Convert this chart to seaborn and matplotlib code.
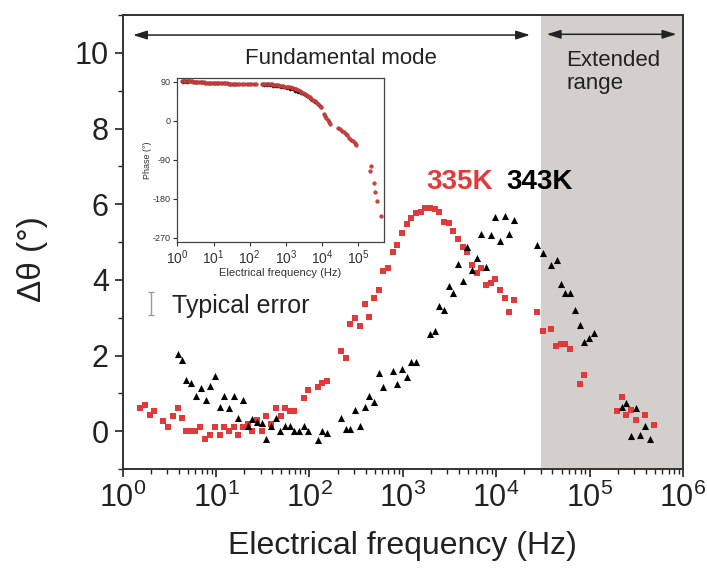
import numpy as np
import pandas as pd
import matplotlib
matplotlib.use("Agg")
import matplotlib.pyplot as plt
import seaborn as sns

# ---------------- data ----------------
red_freq = [1.52, 1.72, 1.96, 2.17, 2.72, 3.08, 3.49, 3.91, 4.29, 4.73, 5.26, 5.90, 6.67, 7.60,
            8.61, 9.73, 10.9, 12.2, 13.7, 15.6, 17.1, 19.6, 21.8, 24.4, 27.2, 30.8, 34.5, 38.7,
            43.4, 49.2, 54.7, 61.8, 68.9, 86.7, 97.3, 122, 137, 155, 216, 244, 272, 310, 344,
            390, 438, 491, 551, 618, 693, 778, 873, 980, 1100, 1233, 1384, 1552, 1742, 1954,
            2188, 2460, 2754, 3090, 3475, 3890, 4365, 4909, 5495, 6166, 6918, 7762, 8710, 9772,
            10965, 12303, 13804, 15488, 27542, 31405, 38905, 43954, 49774, 54954, 61518, 78163,
            86896, 194536, 220290, 247172, 274789, 311170, 394457, 493173]
red_dtheta = [0.62, 0.68, 0.43, 0.53, 0.27, 0.12, 0.41, 0.60, 0.36, 0.0, 0.0, 0.0, 0.11, -0.20,
              -0.09, 0.12, -0.09, 0.12, 0.0, 0.12, -0.09, 0.12, 0.20, 0.0, 0.29, 0.0, 0.41, 0.20,
              0.60, 0.41, 0.60, 0.52, 0.52, 0.87, 1.08, 1.16, 1.27, 1.32, 2.13, 1.93, 2.82, 3.00, 2.77,
              3.36, 3.02, 3.52, 3.73, 4.23, 4.32, 4.73, 4.92, 5.23, 5.48, 5.64, 5.77, 5.80, 5.91, 5.91,
              5.88, 5.80, 5.54, 5.49, 5.30, 5.08, 4.87, 4.74, 4.40, 4.19, 4.31, 3.87, 3.92, 4.03,
              3.74, 3.53, 3.16, 3.46, 3.16, 2.66, 2.71, 2.24, 2.31, 2.31, 2.17, 1.24,
              1.48, 0.53, 0.90, 0.43, 0.56, 0.29, 0.43, 0.16]

black_freq = [3.91, 4.29, 4.81, 5.38, 6.15, 6.90, 7.74, 8.61, 9.73, 10.9, 12.2, 13.7, 15.4, 17.3,
              19.4, 21.8, 24.4, 27.4, 30.8, 34.5, 38.7, 43.4, 48.8, 54.7, 61.4, 68.9, 77.3, 86.7,
              97.3, 122, 137, 154, 216, 244, 274, 308, 351, 390, 438, 491, 551, 618, 778, 873, 980,
              1100, 1233, 1384, 1954, 2188, 2460, 2754, 3090, 3475, 3890, 4365, 4909, 5495, 6166,
              6918, 7762, 8710, 9772, 10965, 12303, 13804, 15488, 27542, 31405, 38905, 45082,
              49317, 54954, 62087, 69663, 78163, 87700, 98401, 110408, 220290, 247172, 279254,
              313329, 349140, 394457, 442588]
black_dtheta = [2.04, 1.88, 1.36, 1.27, 0.92, 1.14, 0.83, 1.20, 1.45, 0.63, 0.93, 0.62, 0.94, 0.36,
                0.83, 0.13, 0.32, 0.25, 0.22, -0.20, 0.13, 0.36, 0.01, 0.14, 0.13, 0.01, 0.01, 0.13,
                0.01, -0.24, 0.01, -0.04, 0.36, 0.07, 0.07, 0.56, 0.14, 0.63, 0.93, 0.76, 1.54, 1.16,
                1.58, 1.25, 1.63, 1.43, 1.83, 1.82, 2.56, 2.64, 3.32, 3.19, 3.85, 3.64, 4.43, 3.96,
                4.87, 4.27, 4.58, 5.20, 4.34, 5.18, 5.65, 5.03, 5.70, 5.22, 5.57, 4.93, 4.71, 4.40,
                4.53, 3.88, 3.64, 3.64, 3.21, 2.80, 2.36, 2.46, 2.59, 0.65, 0.75, -0.12,
                0.62, -0.09, 0.13, -0.21]

inset_red_freq = [1.35, 1.45, 1.55, 1.65, 1.8, 1.95, 2.1, 2.3, 2.5, 2.7, 3.0, 3.3, 3.6, 4.0, 4.4,
                  4.9, 5.4, 6.0, 6.6, 7.3, 8.1, 9.0, 10, 11, 12.3, 13.7, 15.3, 17, 19, 21, 23.5,
                  26, 29, 32, 36, 40, 45, 52, 60, 70, 82, 96, 112, 130, 150,
                  215, 240, 265, 295, 330, 365, 405, 450, 500, 555, 615, 685, 760, 845, 940, 1040,
                  1160, 1290, 1430, 1590, 1770, 1960, 2180, 2420, 2690, 2990, 3320, 3690, 4100,
                  4550, 5060, 5620, 6250, 6940, 7710, 8570, 9520, 11500, 12300, 13200, 14200,
                  15300, 16300, 28200, 31600, 35500, 39800, 44700, 50100, 56200, 63100, 70800,
                  79400, 89100, 204000, 222000, 263000, 290000, 324000, 418000]
inset_red_phase = [91, 91.5, 92, 91, 91.5, 91, 90.5, 91, 90.5, 90, 90, 89.5, 89.5, 89, 89,
                   88.5, 88.5, 88, 88, 87.5, 87.5, 87, 87, 87, 86.5, 86.5, 86.5, 86, 86, 86, 86,
                   85.5, 85.5, 85.5, 85.5, 85, 85, 85, 84.5, 84.5, 84.5, 84.5, 84.5, 84.5, 84.5,
                   85, 85, 84.5, 84.5, 84, 83.5, 83.5, 83, 82.5, 82, 81.5, 81, 80.5, 79.5, 78.5, 77.5,
                   77, 77, 76, 75, 73.5, 72.5, 71, 69, 67, 64.5, 62, 59, 56.5,
                   54, 51, 47.5, 44.5, 42, 38, 34.5, 31, 16, 11, 6, 1,
                   -4, -7, -17.6, -20, -23, -26, -30, -34, -39, -44, -48,
                   -52, -56, -116, -104.6, -144.6, -164, -184.6, -220]

inset_black_freq = [1.4, 1.6, 1.9, 250, 300, 360, 430, 520, 620, 740, 890, 1070, 1280, 1530,
                    1830, 2200, 2630, 3150, 3770, 4500, 5400, 6450, 7700, 9200]
inset_black_phase = [90, 90.5, 90, 83, 82.5, 82, 81, 80.5, 79.5, 78.5, 77, 75.5, 74, 72,
                     69.5, 67, 64, 60.5, 57, 53, 48.5, 43.5, 38, 32]

main_xticks = [1, 10, 100, 1e3, 1e4, 1e5, 1e6]
main_yticks = [0, 2, 4, 6, 8, 10]
inset_xticks = [1, 10, 100, 1e3, 1e4, 1e5]
inset_yticks = [90, 0, -90, -180, -270]

# ---------------- style ----------------
sns.set_theme(style="ticks")
plt.rcParams["font.family"] = ["Liberation Sans", "DejaVu Sans"]
plt.rcParams["mathtext.fontset"] = "custom"
plt.rcParams["mathtext.rm"] = "Liberation Sans"
plt.rcParams["mathtext.it"] = "Liberation Sans:italic"
plt.rcParams["mathtext.bf"] = "Liberation Sans:bold"
plt.rcParams["axes.unicode_minus"] = False

RED = "#e23a3a"
SHADE = "#d3cfcc"
DARK = "#222222"

W, H = 707, 572
fig = plt.figure(figsize=(W / 100, H / 100), dpi=100)
L, R, T, B = 122.7, 683, 15, 469
ax = fig.add_axes([L / W, 1 - B / H, (R - L) / W, (B - T) / H])

ax.set_xscale("log")
ax.set_xlim(1, 1e6)
ax.set_ylim(-1, 11)
ax.axvspan(3e4, 1e6, color=SHADE, zorder=0, lw=0)

main_red = pd.DataFrame({"f": red_freq, "d": red_dtheta})
main_black = pd.DataFrame({"f": black_freq, "d": black_dtheta})
sns.scatterplot(data=main_red, x="f", y="d", marker="s", s=16, color=RED, linewidth=0, ax=ax, zorder=3)
sns.scatterplot(data=main_black, x="f", y="d", marker="^", s=26, color="black", linewidth=0, ax=ax, zorder=4)

ax.set_xticks(main_xticks)
ax.set_xticklabels([r"$10^{%d}$" % int(np.log10(v)) for v in main_xticks])
ax.xaxis.set_minor_locator(matplotlib.ticker.LogLocator(base=10, subs=np.arange(2, 10)))
ax.xaxis.set_minor_formatter(matplotlib.ticker.NullFormatter())
ax.set_yticks(main_yticks)
ax.yaxis.set_minor_locator(matplotlib.ticker.MultipleLocator(1))
ax.tick_params(axis="both", which="major", direction="out", length=6, width=1.2, labelsize=22,
               colors=DARK, pad=4)
ax.tick_params(axis="both", which="minor", direction="out", length=3.5, width=1.0, colors=DARK)
for sp in ax.spines.values():
    sp.set_linewidth(1.4)
    sp.set_color("#333333")
    sp.set_visible(True)

ax.set_xlabel("Electrical frequency (Hz)", fontsize=23, color=DARK, labelpad=12)
ax.set_ylabel("Δθ (°)", fontsize=24, color=DARK)
ax.yaxis.set_label_coords(-0.133, 0.4626)

# arrows and region labels
arr = dict(arrowstyle="<|-|>,head_length=0.7,head_width=0.22", color=DARK, lw=1.1,
           shrinkA=0, shrinkB=0)
ax.annotate("", xy=(1.29, 10.47), xytext=(2.3e4, 10.47), arrowprops=arr, zorder=5)
ax.annotate("", xy=(3.47e4, 10.49), xytext=(8.5e5, 10.49), arrowprops=arr, zorder=5)
ax.text(218, 9.84, "Fundamental mode", fontsize=16, color=DARK, ha="center", va="center")
ax.text(5.6e4, 10.08, "Extended\nrange", fontsize=16, color=DARK, ha="left", va="top",
        linespacing=1.15)

ax.text(1770, 6.39, "335K", fontsize=20, fontweight="bold", color=RED, ha="left", va="baseline")
ax.text(1.29e4, 6.39, "343K", fontsize=20, fontweight="bold", color="black", ha="left", va="baseline")

ax.errorbar([2.01], [3.375], yerr=[[0.3], [0.3]], fmt="none", ecolor="#9a9a9a", elinewidth=1.0,
            capsize=2.5, capthick=1.0)
ax.text(3.35, 3.31, "Typical error", fontsize=18, color=DARK, ha="left", va="center")

# ---------------- inset ----------------
iL, iR, iT, iB = 177.3, 383.5, 78.3, 242
axi = fig.add_axes([iL / W, 1 - iB / H, (iR - iL) / W, (iB - iT) / H])
axi.set_xscale("log")
axi.set_xlim(1, 10 ** 5.696)
axi.set_ylim(-280, 97.8)
in_black = pd.DataFrame({"f": inset_black_freq, "p": inset_black_phase})
in_red = pd.DataFrame({"f": inset_red_freq, "p": inset_red_phase})
sns.scatterplot(data=in_black, x="f", y="p", marker="o", s=7, color="#1a1a1a", linewidth=0, ax=axi)
sns.scatterplot(data=in_red, x="f", y="p", marker="o", s=7, color="#d8403e", edgecolor="#8a2a2a",
                linewidth=0.3, ax=axi)
axi.set_xticks(inset_xticks)
axi.set_xticklabels([r"$10^{%d}$" % int(np.log10(v)) for v in inset_xticks])
axi.xaxis.set_minor_locator(matplotlib.ticker.LogLocator(base=10, subs=np.arange(2, 10)))
axi.xaxis.set_minor_formatter(matplotlib.ticker.NullFormatter())
axi.set_yticks(inset_yticks)
axi.tick_params(axis="x", which="major", direction="out", length=3, width=0.8, labelsize=10,
                colors="#333333", pad=1.5)
axi.tick_params(axis="y", which="major", direction="out", length=3, width=0.8, labelsize=6.5,
                colors="#333333", pad=1.5)
axi.tick_params(axis="x", which="minor", direction="out", length=1.8, width=0.6, colors="#333333")
for sp in axi.spines.values():
    sp.set_linewidth(0.9)
    sp.set_color("#444444")
    sp.set_visible(True)
axi.set_xlabel("Electrical frequency (Hz)", fontsize=8, color="#333333", labelpad=1)
axi.set_ylabel("Phase (°)", fontsize=6.5, color="#333333", labelpad=1)

fig.savefig("out.png", dpi=100)
